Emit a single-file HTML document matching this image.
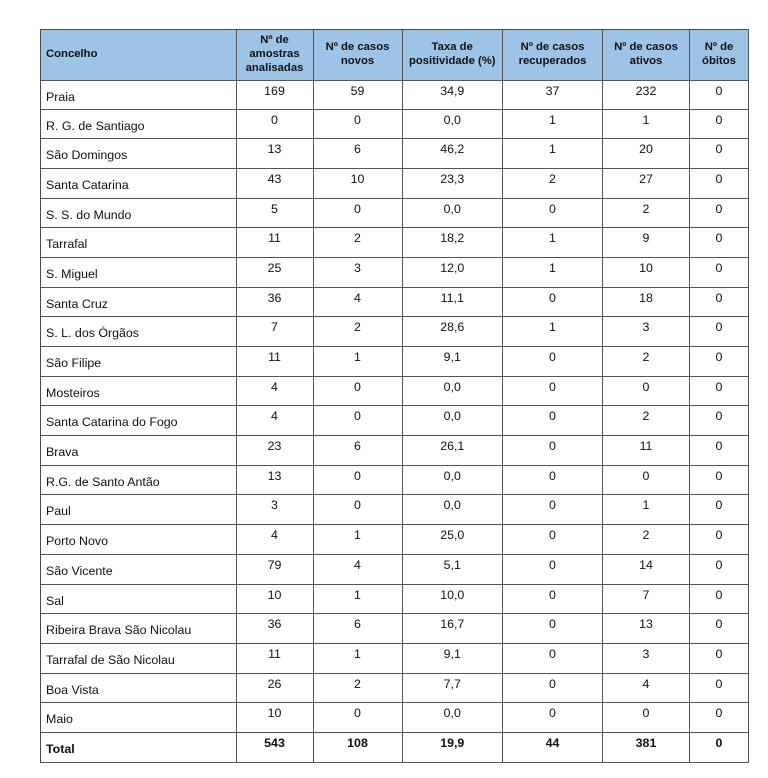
<!DOCTYPE html>
<html>
<head>
<meta charset="utf-8">
<style>
  html, body { margin:0; padding:0; background:#fff; }
  body { width:768px; height:778px; position:relative; overflow:hidden;
         font-family:"Liberation Sans", "DejaVu Sans", sans-serif; color:#111; }
  .t { position:absolute; left:40px; top:29px;
       display:grid;
       grid-template-columns:195.5px 77px 89px 100.5px 100px 87px 59px;
       grid-template-rows:51px 28.5px repeat(22, 29.7px);
       border-left:1px solid #4a4a4a; border-top:1px solid #4a4a4a; }
  .t > div { box-sizing:border-box; border-right:1px solid #555; border-bottom:1px solid #555;
             overflow:visible; white-space:nowrap; }
  .h { background:#9dc3e6; font-weight:bold; font-size:11.3px; line-height:13.8px;
       display:flex; align-items:center; justify-content:center; text-align:center; }
  .h.first { justify-content:flex-start; padding-left:5px; }
  .l { font-size:12.4px; line-height:14px; padding:9px 0 0 5px; }
  .n { font-size:12.4px; line-height:14px; padding-top:3px; text-align:center; }
  .b { font-weight:bold; }
</style>
</head>
<body>
<div class="t">
  <div class="h first">Concelho</div>
  <div class="h">Nº de<br>amostras<br>analisadas</div>
  <div class="h">Nº de casos<br>novos</div>
  <div class="h">Taxa de<br>positividade (%)</div>
  <div class="h">Nº de casos<br>recuperados</div>
  <div class="h">Nº de casos<br>ativos</div>
  <div class="h">Nº de<br>óbitos</div>

  <div class="l">Praia</div><div class="n">169</div><div class="n">59</div><div class="n">34,9</div><div class="n">37</div><div class="n">232</div><div class="n">0</div>
  <div class="l">R. G. de Santiago</div><div class="n">0</div><div class="n">0</div><div class="n">0,0</div><div class="n">1</div><div class="n">1</div><div class="n">0</div>
  <div class="l">São Domingos</div><div class="n">13</div><div class="n">6</div><div class="n">46,2</div><div class="n">1</div><div class="n">20</div><div class="n">0</div>
  <div class="l">Santa Catarina</div><div class="n">43</div><div class="n">10</div><div class="n">23,3</div><div class="n">2</div><div class="n">27</div><div class="n">0</div>
  <div class="l">S. S. do Mundo</div><div class="n">5</div><div class="n">0</div><div class="n">0,0</div><div class="n">0</div><div class="n">2</div><div class="n">0</div>
  <div class="l">Tarrafal</div><div class="n">11</div><div class="n">2</div><div class="n">18,2</div><div class="n">1</div><div class="n">9</div><div class="n">0</div>
  <div class="l">S. Miguel</div><div class="n">25</div><div class="n">3</div><div class="n">12,0</div><div class="n">1</div><div class="n">10</div><div class="n">0</div>
  <div class="l">Santa Cruz</div><div class="n">36</div><div class="n">4</div><div class="n">11,1</div><div class="n">0</div><div class="n">18</div><div class="n">0</div>
  <div class="l">S. L. dos Órgãos</div><div class="n">7</div><div class="n">2</div><div class="n">28,6</div><div class="n">1</div><div class="n">3</div><div class="n">0</div>
  <div class="l">São Filipe</div><div class="n">11</div><div class="n">1</div><div class="n">9,1</div><div class="n">0</div><div class="n">2</div><div class="n">0</div>
  <div class="l">Mosteiros</div><div class="n">4</div><div class="n">0</div><div class="n">0,0</div><div class="n">0</div><div class="n">0</div><div class="n">0</div>
  <div class="l">Santa Catarina do Fogo</div><div class="n">4</div><div class="n">0</div><div class="n">0,0</div><div class="n">0</div><div class="n">2</div><div class="n">0</div>
  <div class="l">Brava</div><div class="n">23</div><div class="n">6</div><div class="n">26,1</div><div class="n">0</div><div class="n">11</div><div class="n">0</div>
  <div class="l">R.G. de Santo Antão</div><div class="n">13</div><div class="n">0</div><div class="n">0,0</div><div class="n">0</div><div class="n">0</div><div class="n">0</div>
  <div class="l">Paul</div><div class="n">3</div><div class="n">0</div><div class="n">0,0</div><div class="n">0</div><div class="n">1</div><div class="n">0</div>
  <div class="l">Porto Novo</div><div class="n">4</div><div class="n">1</div><div class="n">25,0</div><div class="n">0</div><div class="n">2</div><div class="n">0</div>
  <div class="l">São Vicente</div><div class="n">79</div><div class="n">4</div><div class="n">5,1</div><div class="n">0</div><div class="n">14</div><div class="n">0</div>
  <div class="l">Sal</div><div class="n">10</div><div class="n">1</div><div class="n">10,0</div><div class="n">0</div><div class="n">7</div><div class="n">0</div>
  <div class="l">Ribeira Brava São Nicolau</div><div class="n">36</div><div class="n">6</div><div class="n">16,7</div><div class="n">0</div><div class="n">13</div><div class="n">0</div>
  <div class="l">Tarrafal de São Nicolau</div><div class="n">11</div><div class="n">1</div><div class="n">9,1</div><div class="n">0</div><div class="n">3</div><div class="n">0</div>
  <div class="l">Boa Vista</div><div class="n">26</div><div class="n">2</div><div class="n">7,7</div><div class="n">0</div><div class="n">4</div><div class="n">0</div>
  <div class="l">Maio</div><div class="n">10</div><div class="n">0</div><div class="n">0,0</div><div class="n">0</div><div class="n">0</div><div class="n">0</div>
  <div class="l b">Total</div><div class="n b">543</div><div class="n b">108</div><div class="n b">19,9</div><div class="n b">44</div><div class="n b">381</div><div class="n b">0</div>
</div>
</body>
</html>
